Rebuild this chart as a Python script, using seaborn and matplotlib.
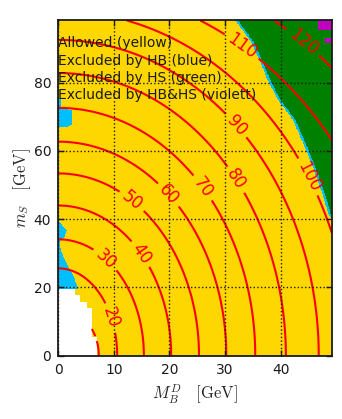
import matplotlib
matplotlib.use("Agg")
import matplotlib.pyplot as plt
from matplotlib.colors import ListedColormap
import numpy as np
import seaborn as sns

# mass contours (GeV): level, where each contour meets the x and y axes
mass_levels = [10, 20, 30, 40, 50, 60, 70, 80, 90, 100, 110, 120]
x_intercept = [7.3, 10.6, 15.4, 20.3, 25.3, 30.2, 35.4, 40.9, 46.8, 52.6, 60.5, 70.6]
y_intercept = [14.0, 25.6, 34.1, 44.0, 53.4, 62.7, 72.6, 82.8, 92.5, 101.0, 108.3, 117.5]
label_x = [None, 9.3, 8.1, 14.1, 12.6, 19.2, 25.4, 31.4, 31.4, 44.9, 32.5, 44.3]
label_y = [None, 11.0, 27.5, 29.0, 44.0, 46.2, 48.5, 51.0, 66.6, 52.4, 89.5, 92.5]

# no data (white) staircase in the lower left corner
white_top = [5.6, 14.0, 15.8, 17.8, 19.7]
white_x = [6.9, 6.0, 5.1, 3.9, 3.0]

# HB excluded (blue) patches on the left edge: width vs m_S
hb_left_y = [19.6, 19.7, 22.5, 25.0, 28.0, 31.0, 32.5, 33.5, 35.0, 36.8, 38.0, 39.2, 39.5,
             66.8, 67.0, 67.6, 72.0, 72.4, 75.0, 75.3]
hb_left_x = [0.0, 3.5, 3.0, 2.2, 1.2, 0.5, 0.3, 0.4, 1.2, 1.6, 0.8, 0.3, 0.0,
             0.0, 1.4, 2.5, 2.5, 0.6, 0.5, 0.0]

# HS excluded (green) upper right: its edge (thin blue strip in front)
hs_edge_y = [40.0, 41.7, 46.6, 52.4, 56.3, 62.2, 69.0, 74.9, 79.8, 85.7, 92.0, 98.3]
hs_edge_x = [49.2, 48.5, 47.6, 46.4, 45.5, 44.0, 42.2, 39.5, 37.9, 36.4, 34.6, 31.8]
hb_strip = 0.45

# HB & HS excluded (violet) cells
violet_x0 = [46.7, 47.9]
violet_x1 = [49.2, 49.2]
violet_y0 = [95.4, 91.5]
violet_y1 = [98.3, 93.0]

legend_lines = ["Allowed (yellow)", "Excluded by HB (blue)",
                "Excluded by HS (green)", "Excluded by HB&HS (violett)"]

sns.set_theme(style="ticks")
plt.rcParams['font.family'] = ['DejaVu Sans']
plt.rcParams['mathtext.fontset'] = 'cm'

xmax, ymax = 49.2, 98.3
xe = np.linspace(0, xmax, 493)
ye = np.linspace(0, ymax, 492)
xc = 0.5 * (xe[1:] + xe[:-1])
yc = 0.5 * (ye[1:] + ye[:-1])
X, Y = np.meshgrid(xc, yc)

cat = np.zeros_like(X)
cat[X < np.interp(Y, hb_left_y, hb_left_x)] = 1
edge = np.interp(Y, hs_edge_y, hs_edge_x, left=99.0)
cat[X >= edge] = 1
cat[X >= edge + hb_strip] = 2
for x0, x1, y0, y1 in zip(violet_x0, violet_x1, violet_y0, violet_y1):
    cat[(X >= x0) & (X <= x1) & (Y >= y0) & (Y <= y1)] = 3

idx = np.searchsorted(white_top, Y, side='right')
wx = np.where(idx < len(white_top), np.array(white_x)[np.minimum(idx, len(white_x) - 1)], 0.0)
white = X < wx
cat = np.where(white, np.nan, cat)

fig = plt.figure(figsize=(3.42, 4.19), dpi=100)
ax = fig.add_axes([0.170, 0.151, 0.801, 0.801])

cmap = ListedColormap(['gold', 'deepskyblue', 'green', (0.75, 0, 0.75)])
ax.pcolormesh(xe, ye, cat, cmap=cmap, vmin=-0.5, vmax=3.5, shading='flat', zorder=1)

for lev, a, b, lx, ly in zip(mass_levels, x_intercept, y_intercept, label_x, label_y):
    r = np.ma.masked_where(white, np.sqrt((X / a) ** 2 + (Y / b) ** 2))
    cs = ax.contour(xc, yc, r, levels=[1.0], colors='red', linewidths=1.5, zorder=2)
    if lx is not None:
        ax.clabel(cs, fmt={1.0: str(lev)}, manual=[(lx, ly)], inline=True,
                  fontsize=12, colors='red')

ax.set_xlim(0, xmax)
ax.set_ylim(0, ymax)
ax.set_xticks([0, 10, 20, 30, 40])
ax.set_yticks([0, 20, 40, 60, 80])
ax.tick_params(direction='in', length=4, width=1, top=True, right=True,
               labelsize=10, colors='k', pad=5)
ax.grid(True, color='k', linestyle=':', linewidth=1)
ax.set_axisbelow(False)
for s in ax.spines.values():
    s.set_linewidth(1.3)
    s.set_color('k')

for i, t in enumerate(legend_lines):
    ax.text(0, [91.5, 86.3, 81.2, 76.3][i], t, fontsize=10, va='center', ha='left',
            color='k', zorder=4)

ax.set_xlabel(r'$M_B^D\quad[\mathrm{GeV}]$', fontsize=12)
ax.set_ylabel(r'$m_S\quad[\mathrm{GeV}]$', fontsize=12, labelpad=0.5)

fig.savefig("out.png", dpi=100)
